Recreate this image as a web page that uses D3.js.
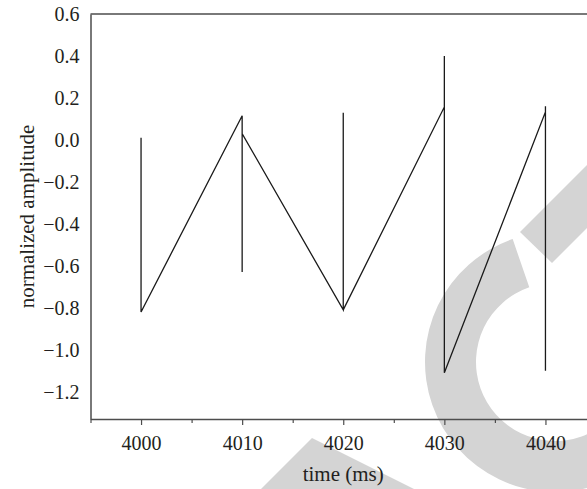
<!DOCTYPE html>
<html>
<head>
<meta charset="utf-8">
<script src="https://cdn.jsdelivr.net/npm/d3@7"></script>
<style>
  body { margin: 0; background: #fff; overflow: hidden; }
  svg { display: block; }
</style>
</head>
<body>
<svg id="chart"></svg>
<script>
// Signal samples (time in ms, normalized amplitude), in drawing order
var times      = [4000, 4000, 4000, 4010, 4010, 4010, 4020, 4020, 4020, 4030, 4030, 4030, 4030, 4040, 4040, 4040];
var amplitudes = [-0.54, 0.01, -0.82, 0.115, -0.63, 0.03, -0.81, 0.13, -0.81, 0.157, 0.40, -0.88, -1.11, 0.133, 0.16, -1.10];

// Axis ticks
var xTicks = [4000, 4010, 4020, 4030, 4040];
var xMinorTicks = [3995, 4005, 4015, 4025, 4035, 4045];
var yTicks = [0.6, 0.4, 0.2, 0.0, -0.2, -0.4, -0.6, -0.8, -1.0, -1.2];

var width = 587, height = 489;
var margin = { top: 14, left: 90.5, bottom: 70, right: -9 };
var plotW = width - margin.left - margin.right;
var plotH = height - margin.top - margin.bottom;

var svg = d3.select("#chart")
    .attr("width", width)
    .attr("height", height);

// Background watermark shapes (light grey, behind everything)
var wm = svg.append("g").attr("fill", "#d4d4d4");
wm.append("path")
    .attr("transform", "translate(555,362)")
    .attr("d", d3.arc()
        .innerRadius(79)
        .outerRadius(130)
        .startAngle(70 * Math.PI / 180)
        .endAngle(341 * Math.PI / 180)());
wm.append("polygon")
    .attr("points", "520,232 552,263 640,175 608,144");
wm.append("polygon")
    .attr("points", "312,438 250,500 436,500");

var g = svg.append("g")
    .attr("transform", "translate(" + margin.left + "," + margin.top + ")");

var x = d3.scaleLinear()
    .domain([3995, 4045])
    .range([0, plotW]);

var y = d3.scaleLinear()
    .domain([-1.33, 0.6])
    .range([plotH, 0]);

var font = "'Liberation Serif', 'Times New Roman', serif";
var axisColor = "#4d4d4d";

// Top frame line
g.append("line")
    .attr("x1", 0).attr("x2", plotW)
    .attr("y1", 0).attr("y2", 0)
    .attr("stroke", axisColor)
    .attr("stroke-width", 1.5);

// Minor x ticks
var xMinor = g.append("g")
    .attr("transform", "translate(0," + plotH + ")")
    .call(d3.axisBottom(x).tickValues(xMinorTicks).tickSize(4).tickFormat(""));
xMinor.select(".domain").remove();
xMinor.selectAll("line").attr("stroke", axisColor).attr("stroke-width", 1.2);

// Major x axis
var xAxis = g.append("g")
    .attr("transform", "translate(0," + plotH + ")")
    .call(d3.axisBottom(x).tickValues(xTicks).tickSize(6).tickSizeOuter(0).tickPadding(11).tickFormat(d3.format("d")));
xAxis.select(".domain").attr("stroke", axisColor).attr("stroke-width", 1.5);
xAxis.selectAll("line").attr("stroke", axisColor).attr("stroke-width", 1.2);
xAxis.selectAll("text")
    .style("font-family", font)
    .style("font-size", "20px")
    .attr("fill", "#231f20");

// Y axis (no tick marks)
var yAxis = g.append("g")
    .call(d3.axisLeft(y).tickValues(yTicks).tickSize(0).tickPadding(11).tickFormat(d3.format(".1f")));
yAxis.select(".domain").attr("stroke", axisColor).attr("stroke-width", 1.5);
yAxis.selectAll("text")
    .style("font-family", font)
    .style("font-size", "20px")
    .attr("fill", "#231f20");

// Axis titles
g.append("text")
    .attr("x", x(4020))
    .attr("y", plotH + 62)
    .attr("text-anchor", "middle")
    .style("font-family", font)
    .style("font-size", "21px")
    .attr("fill", "#231f20")
    .text("time (ms)");

g.append("text")
    .attr("transform", "translate(" + (-57) + "," + (plotH / 2) + ") rotate(-90)")
    .attr("text-anchor", "middle")
    .style("font-family", font)
    .style("font-size", "21px")
    .attr("fill", "#231f20")
    .text("normalized amplitude");

// Signal trace
var points = times.map(function(t, i) { return [t, amplitudes[i]]; });
var line = d3.line()
    .x(function(d) { return x(d[0]); })
    .y(function(d) { return y(d[1]); });

g.append("path")
    .datum(points)
    .attr("fill", "none")
    .attr("stroke", "#1a1a1a")
    .attr("stroke-width", 1.3)
    .attr("stroke-linejoin", "miter")
    .attr("d", line);
</script>
</body>
</html>
